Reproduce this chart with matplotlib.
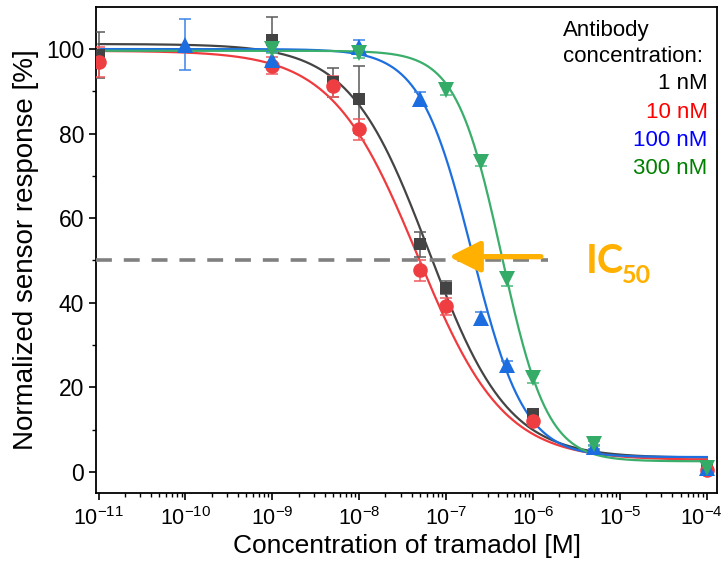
import numpy as np
import matplotlib
matplotlib.use("Agg")
import matplotlib.pyplot as plt
import matplotlib.transforms as mtransforms
from matplotlib.patches import FancyArrowPatch
from matplotlib.ticker import NullFormatter, FixedLocator, LogFormatterSciNotation

plt.rcParams['font.family'] = ['Liberation Sans', 'DejaVu Sans']
plt.rcParams['mathtext.fontset'] = 'custom'
plt.rcParams['mathtext.rm'] = 'Liberation Sans'
plt.rcParams['mathtext.it'] = 'Liberation Sans:italic'
plt.rcParams['mathtext.bf'] = 'Liberation Sans:bold'

# Tramadol concentrations [M], normalized responses [%] and standard deviations
conc_1nM = [1e-11, 1e-9, 5e-9, 1e-8, 5e-8, 1e-7, 1e-6, 1e-4]
resp_1nM = [98.6, 102.2, 92.1, 88.1, 53.8, 43.6, 13.8, 0.9]
err_1nM = [5.5, 5.5, 3.5, 8.0, 3.0, 1.5, 1.0, 0.5]

conc_10nM = [1e-11, 1e-9, 5e-9, 1e-8, 5e-8, 1e-7, 1e-6, 1e-4]
resp_10nM = [97.0, 96.1, 91.2, 81.0, 47.7, 39.2, 12.1, 0.5]
err_10nM = [3.5, 2.0, 2.5, 2.5, 2.5, 2.0, 1.0, 0.5]

conc_100nM = [1e-10, 1e-9, 1e-8, 5e-8, 2.5e-7, 5e-7, 5e-6, 1e-4]
resp_100nM = [101.0, 97.3, 100.6, 88.3, 36.3, 25.2, 5.9, 1.0]
err_100nM = [6.0, 2.0, 1.5, 1.5, 1.5, 1.0, 0.5, 0.5]

conc_300nM = [1e-9, 1e-8, 1e-7, 2.5e-7, 5e-7, 1e-6, 5e-6, 1e-4]
resp_300nM = [100.1, 99.0, 90.2, 73.3, 45.5, 22.1, 6.7, 0.9]
err_300nM = [1.0, 1.0, 1.0, 1.0, 1.5, 1.0, 0.5, 0.5]

# Four-parameter logistic fit results: top, bottom, log10(IC50), Hill slope
fit_1nM = [101.2, 3.3, -7.20, 0.95]
fit_10nM = [99.6, 2.8, -7.33, 0.88]
fit_100nM = [100.0, 3.5, -6.70, 1.45]
fit_300nM = [99.6, 2.5, -6.36, 1.65]

legend_labels = ['1 nM', '10 nM', '100 nM', '300 nM']
x_decades = [-11, -10, -9, -8, -7, -6, -5, -4]
y_ticks = [0, 20, 40, 60, 80, 100]
ic50_level = 50


def logistic(x, top, bottom, log_ic50, hill):
    return bottom + (top - bottom) / (1.0 + (x / 10.0 ** log_ic50) ** hill)


series = [
    (conc_1nM, resp_1nM, err_1nM, fit_1nM, 's', 9, '#434343', '#5a5a5a', '#444444'),
    (conc_10nM, resp_10nM, err_10nM, fit_10nM, 'o', 10.5, '#ef3e42', '#f05a5e', '#ef3b3e'),
    (conc_100nM, resp_100nM, err_100nM, fit_100nM, '^', 11, '#1b6de0', '#3a84e6', '#1d6fe0'),
    (conc_300nM, resp_300nM, err_300nM, fit_300nM, 'v', 11, '#34ab67', '#4cb87a', '#3aae6a'),
]
legend_colors = ['#000000', '#ff0000', '#0000ff', '#008000']

fig = plt.figure(figsize=(7.26, 5.65), dpi=100)
ax = fig.add_axes([0.1322, 0.1274, 0.988 - 0.1322, 0.988 - 0.1274])

xfit = np.logspace(-11, -4, 600)
for conc, resp, err, fit, marker, ms, mcol, ecol, lcol in series:
    ax.plot(xfit, logistic(xfit, *fit), color=lcol, lw=1.6, zorder=2)
    ax.errorbar(conc, resp, yerr=err, fmt='none', ecolor=ecol, elinewidth=1.1,
                capsize=4.5, capthick=1.1, zorder=3)
    ax.plot(conc, resp, ls='none', marker=marker, ms=ms, color=mcol,
            markeredgewidth=0, zorder=4)

# IC50 reference level
ax.plot([10 ** -11.03, 10 ** -5.83], [ic50_level, ic50_level], color='#808080',
        lw=2.6, ls=(0, (4.4, 3.3)), zorder=5)

arrow = FancyArrowPatch((10 ** -5.91, 50.9), (10 ** -6.968, 50.9),
                        arrowstyle='-|>,head_length=19,head_width=9.5',
                        mutation_scale=1, color='#ffb000', lw=3.8,
                        shrinkA=0, shrinkB=0, zorder=6)
ax.add_patch(arrow)
ax.text(10 ** -5.39, 47.0, 'IC', color='#ffb000', fontsize=28.5,
        fontweight='bold', family=['Lato', 'DejaVu Sans'], ha='left', va='baseline')
ax.text(10 ** -4.98, 44.6, '50', color='#ffb000', fontsize=18,
        fontweight='bold', family=['Lato', 'DejaVu Sans'], ha='left', va='baseline')

# Legend block
ax.text(0.7517, 0.952, 'Antibody', transform=ax.transAxes, fontsize=16,
        ha='left', va='center')
ax.text(0.7517, 0.8987, 'concentration:', transform=ax.transAxes, fontsize=16,
        ha='left', va='center')
for lab, col, yy in zip(legend_labels, legend_colors, [0.843, 0.7835, 0.7259, 0.6683]):
    ax.text(0.9846, yy, lab, transform=ax.transAxes, fontsize=16, color=col,
            ha='right', va='center')

ax.set_xscale('log')
ax.set_xlim(10 ** -11.03, 10 ** -3.88)
ax.set_ylim(-5, 110)
ax.xaxis.set_major_locator(FixedLocator([10.0 ** d for d in x_decades]))
ax.xaxis.set_major_formatter(LogFormatterSciNotation())
minor_x = [m * 10.0 ** d for d in x_decades for m in range(2, 10)]
ax.xaxis.set_minor_locator(FixedLocator(minor_x))
ax.xaxis.set_minor_formatter(NullFormatter())
ax.set_yticks(y_ticks)
ax.yaxis.set_minor_locator(FixedLocator([10, 30, 50, 70, 90]))

for s in ax.spines.values():
    s.set_linewidth(1.3)
ax.tick_params(which='major', direction='out', length=5, width=1.2, labelsize=16.5)
ax.tick_params(axis='x', which='major', labelsize=15.5, pad=5)
ax.tick_params(which='minor', direction='out', length=3, width=1.0)

ax.set_xlabel('Concentration of tramadol [M]', fontsize=19, labelpad=3)
ax.set_ylabel('Normalized sensor response [%]', fontsize=20, labelpad=5)

# keep the rightmost decade label inside the canvas
fig.canvas.draw()
last_label = ax.xaxis.get_major_ticks()[-1].label1
shift = mtransforms.ScaledTranslation(-4 / 72, 0, fig.dpi_scale_trans)
last_label.set_transform(last_label.get_transform() + shift)

fig.savefig('out.png', dpi=100)
